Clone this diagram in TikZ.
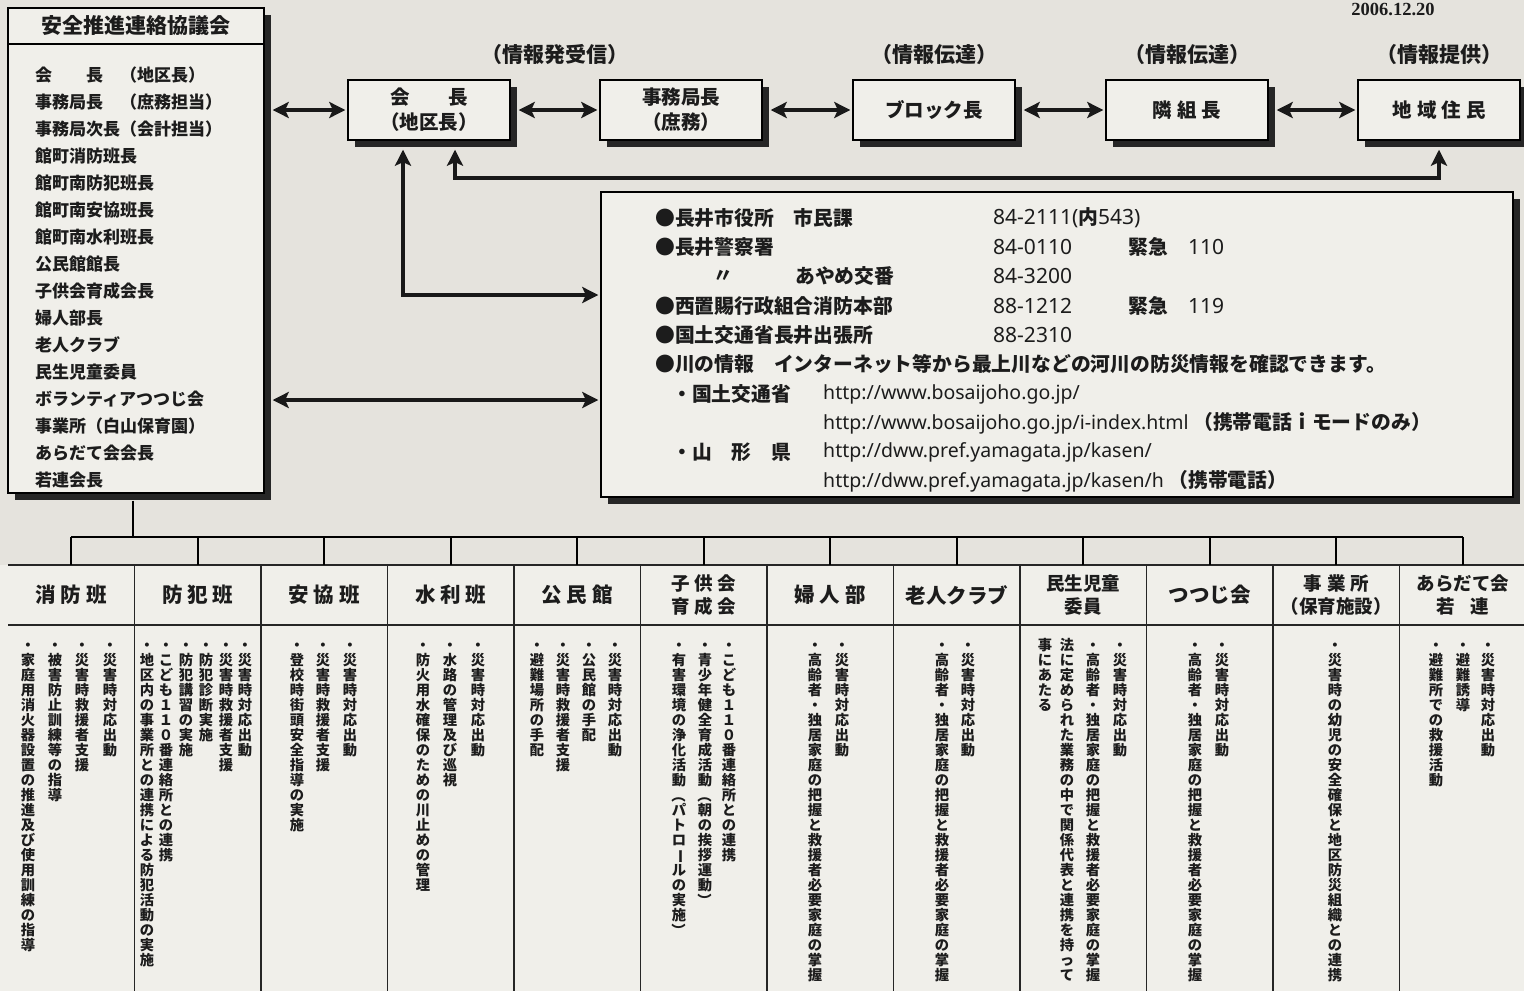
\documentclass[tikz,border=0pt]{standalone}
\usepackage{fontspec}
\usepackage{graphicx}
\setmainfont{Noto Sans CJK JP}
\newfontfamily\latf{Noto Sans}
\newfontfamily\datf{Liberation Serif}
\usetikzlibrary{arrows.meta,shadows}
\definecolor{paper}{RGB}{229,227,221}
\definecolor{boxfill}{RGB}{240,239,234}
\definecolor{ink}{RGB}{28,28,28}
\newcommand\vch[1]{\vbox to 15pt{\vss\hbox to 15pt{\hss\vrule height 11.5pt depth 2pt width 0pt\relax #1\hss}\vss}}
\ExplSyntaxOn
\NewDocumentCommand\vcol{m}{\vbox{\offinterlineskip \tl_map_function:nN {#1} \vch}}
\ExplSyntaxOff
\newcommand\vrt[1]{\rotatebox[origin=c]{-90}{#1}}
\newcommand\ls{\hspace{5pt}}
\newcommand\la[1]{{\latf\fontsize{21}{24}\selectfont #1}}
\newcommand\lu[1]{{\latf\fontsize{19.5}{24}\selectfont #1}}
\tikzset{
  box/.style={draw=black, line width=1.4pt, fill=boxfill,
    drop shadow={shadow xshift=7pt, shadow yshift=-7pt, fill=black!85, opacity=1}},
  tb/.style={box, minimum width=162pt, minimum height=60pt, align=center, inner sep=0pt,
    font=\fontsize{19.5}{25}\selectfont\bfseries, text=ink},
  lab/.style={font=\fontsize{21}{21}\selectfont\bfseries, text=ink},
  li/.style={anchor=west, inner sep=0pt, font=\fontsize{17}{17}\selectfont\bfseries, text=ink},
  it/.style={anchor=west, inner sep=0pt, font=\fontsize{19.8}{24}\selectfont\bfseries, text=ink},
  dbl/.style={line width=4pt, draw=black!90, {Stealth[length=16pt,width=16pt,inset=3.5pt]}-{Stealth[length=16pt,width=16pt,inset=3.5pt]}},
  hd/.style={minimum width=126.5pt, minimum height=60pt, inner sep=0pt, align=center,
    font=\fontsize{20.5}{24}\selectfont\bfseries, text=ink},
  hd2/.style={hd, font=\fontsize{18.5}{23}\selectfont\bfseries},
  vt/.style={anchor=north, inner sep=0pt, font=\fontsize{14.3}{15}\selectfont\bfseries, text=ink},
  grid/.style={draw=black!85, line width=1.5pt},
}
\begin{document}
\begin{tikzpicture}[x=1pt,y=-1pt]
\useasboundingbox (0,0) rectangle (1524,991);
\fill[paper] (0,0) rectangle (1524,991);
\fill[boxfill] (0,565) rectangle (1524,991);

% date
\node[font=\datf\bfseries\fontsize{18.5}{18}\selectfont, text=ink] (date) at (1393,9) {2006.12.20};

% left council box
\node[box, minimum width=256pt, minimum height=485pt, inner sep=0pt] (council) at (136,250.5) {};
\node[font=\fontsize{21}{21}\selectfont\bfseries, text=ink] (ctitle) at (136,26) {安全推進連絡協議会};
\draw[line width=1.4pt] (council.west |- 0,44) -- (council.east |- 0,44);
\foreach \t [count=\i from 0] in {会　　長　（地区長）,事務局長　（庶務担当）,事務局次長（会計担当）,館町消防班長,館町南防犯班長,館町南安協班長,館町南水利班長,公民館館長,子供会育成会長,婦人部長,老人クラブ,民生児童委員,ボランティアつつじ会,事業所（白山保育園）,あらだて会会長,若連会長}
  \node[li] (li\i) at (35,75+27*\i) {\t};

% top row
\node[tb] (kaicho) at (429,110) {会　　長\\（地区長）};
\node[tb] (jimu) at (681,110) {事務局長\\（庶務）};
\node[tb] (block) at (934,110) {ブロック長};
\node[tb] (tonari) at (1187,110) {隣\ls 組\ls 長};
\node[tb] (jumin) at (1439,110) {地\ls 域\ls 住\ls 民};

\node[lab] (lab1) at (555,55) {（情報発受信）};
\node[lab] (lab2) at (934,55) {（情報伝達）};
\node[lab] (lab3) at (1187,55) {（情報伝達）};
\node[lab] (lab4) at (1439,55) {（情報提供）};

\draw[dbl, shorten <=8pt, shorten >=2pt] (council.east |- kaicho.west) -- (kaicho.west);
\draw[dbl, shorten <=8pt, shorten >=2pt] (kaicho.east) -- (jimu.west);
\draw[dbl, shorten <=8pt, shorten >=2pt] (jimu.east) -- (block.west);
\draw[dbl, shorten <=8pt, shorten >=2pt] (block.east) -- (tonari.west);
\draw[dbl, shorten <=8pt, shorten >=2pt] (tonari.east) -- (jumin.west);

% info box
\node[box, minimum width=912pt, minimum height=305pt, inner sep=0pt] (info) at (1057,344.5) {};

\coordinate (fb) at (455,178);
\draw[dbl] ([xshift=26pt,yshift=-9pt]kaicho.south) -- (fb) -| ([yshift=-9pt]jumin.south);
\coordinate (il) at (info.west |- 0,295);
\draw[dbl, shorten >=2pt] ([xshift=-26pt,yshift=-9pt]kaicho.south) |- (il);
\draw[dbl, shorten <=8pt, shorten >=2pt] (council.east |- 0,400) -- (info.west |- 0,400);

\node[it] (r1a) at (655,218) {●長井市役所　市民課};
\node[it] (r1b) at (993,218) {\la{84-2111(}内\la{543)}};
\node[it] (r2a) at (655,247) {●長井警察署};
\node[it] (r2b) at (993,247) {\la{84-0110}};
\node[it] (r2c) at (1128,247) {緊急};
\node[it] (r2d) at (1188,247) {\la{110}};
\node[it] (r3a) at (713,276) {〃};
\node[it] (r3b) at (795,276) {あやめ交番};
\node[it] (r3c) at (993,276) {\la{84-3200}};
\node[it] (r4a) at (655,306) {●西置賜行政組合消防本部};
\node[it] (r4b) at (993,306) {\la{88-1212}};
\node[it] (r4c) at (1128,306) {緊急};
\node[it] (r4d) at (1188,306) {\la{119}};
\node[it] (r5a) at (655,335) {●国土交通省長井出張所};
\node[it] (r5b) at (993,335) {\la{88-2310}};
\node[it] (r6a) at (655,364) {●川の情報　インターネット等から最上川などの河川の防災情報を確認できます。};
\node[it] (r7a) at (672,394) {・国土交通省};
\node[it] (r7b) at (823,394) {\lu{http://www.bosaijoho.go.jp/}};
\node[it] (r8b) at (823,423) {\lu{http://www.bosaijoho.go.jp/i-index.html} （携帯電話ｉモードのみ）};
\node[it] (r9a) at (672,452) {・山　形　県};
\node[it] (r9b) at (823,452) {\lu{http://dww.pref.yamagata.jp/kasen/}};
\node[it] (r10b) at (823,481) {\lu{http://dww.pref.yamagata.jp/kasen/h} （携帯電話）};

% table grid
\draw[grid] (8,565) -- (1524,565);
\draw[grid] (8,625) -- (1524,625);
\foreach \k in {1,...,11} \draw[grid] (8+126.5*\k,565) -- (8+126.5*\k,991);

% headers
\node[hd] (h1) at (71.25,595) {消\ls 防\ls 班};
\node[hd] (h2) at (197.75,595) {防\ls 犯\ls 班};
\node[hd] (h3) at (324.25,595) {安\ls 協\ls 班};
\node[hd] (h4) at (450.75,595) {水\ls 利\ls 班};
\node[hd] (h5) at (577.25,595) {公\ls 民\ls 館};
\node[hd2] (h6) at (703.75,595) {子\ls 供\ls 会\\育\ls 成\ls 会};
\node[hd] (h7) at (830.25,595) {婦\ls 人\ls 部};
\node[hd] (h8) at (956.75,595) {老人クラブ};
\node[hd2] (h9) at (1083.25,595) {民生児童\\委員};
\node[hd] (h10) at (1209.75,595) {つつじ会};
\node[hd2] (h11) at (1336.25,595) {事\ls 業\ls 所\\（保育施設）};
\node[hd2] (h12) at (1462.75,595) {あらだて会\\若\hspace{16pt}連};

% tree
\coordinate (trunk) at (133,537);
\draw[line width=2pt] ([xshift=-3pt,yshift=-7pt]council.south) -- (trunk);
\draw[line width=2pt] (h1.north |- trunk) -- (h12.north |- trunk);
\foreach \k in {1,...,12} \draw[line width=2pt] (h\k.north |- trunk) -- (h\k.north);

% column texts
\node[vt] (c1a) at (110,638) {\vcol{・災害時対応出動}};
\node[vt] (c1b) at (82,638) {\vcol{・災害時救援者支援}};
\node[vt] (c1c) at (55,638) {\vcol{・被害防止訓練等の指導}};
\node[vt] (c1d) at (28,638) {\vcol{・家庭用消火器設置の推進及び使用訓練の指導}};

\node[vt] (c2a) at (245,638) {\vcol{・災害時対応出動}};
\node[vt] (c2b) at (226,638) {\vcol{・災害時救援者支援}};
\node[vt] (c2c) at (206,638) {\vcol{・防犯診断実施}};
\node[vt] (c2d) at (186,638) {\vcol{・防犯講習の実施}};
\node[vt] (c2e) at (166,638) {\vcol{・こども１１０番連絡所との連携}};
\node[vt] (c2f) at (147,638) {\vcol{・地区内の事業所との連携による防犯活動の実施}};

\node[vt] (c3a) at (350,638) {\vcol{・災害時対応出動}};
\node[vt] (c3b) at (323,638) {\vcol{・災害時救援者支援}};
\node[vt] (c3c) at (297,638) {\vcol{・登校時街頭安全指導の実施}};

\node[vt] (c4a) at (478,638) {\vcol{・災害時対応出動}};
\node[vt] (c4b) at (450,638) {\vcol{・水路の管理及び巡視}};
\node[vt] (c4c) at (423,638) {\vcol{・防火用水確保のための川止めの管理}};

\node[vt] (c5a) at (615,638) {\vcol{・災害時対応出動}};
\node[vt] (c5b) at (589,638) {\vcol{・公民館の手配}};
\node[vt] (c5c) at (563,638) {\vcol{・災害時救援者支援}};
\node[vt] (c5d) at (537,638) {\vcol{・避難場所の手配}};

\node[vt] (c6a) at (729,638) {\vcol{・こども１１０番連絡所との連携}};
\node[vt] (c6b) at (705,638) {\vcol{・青少年健全育成活動{\vrt{（}}朝の挨拶運動{\vrt{）}}}};
\node[vt] (c6c) at (679,638) {\vcol{・有害環境の浄化活動{\vrt{（}}パトロ{\vrt{ー}}ルの実施{\vrt{）}}}};

\node[vt] (c7a) at (842,638) {\vcol{・災害時対応出動}};
\node[vt] (c7b) at (815,638) {\vcol{・高齢者・独居家庭の把握と救援者必要家庭の掌握}};

\node[vt] (c8a) at (968,638) {\vcol{・災害時対応出動}};
\node[vt] (c8b) at (942,638) {\vcol{・高齢者・独居家庭の把握と救援者必要家庭の掌握}};

\node[vt] (c9a) at (1120,638) {\vcol{・災害時対応出動}};
\node[vt] (c9b) at (1093,638) {\vcol{・高齢者・独居家庭の把握と救援者必要家庭の掌握}};
\node[vt] (c9c) at (1067,638) {\vcol{法に定められた業務の中で関係代表と連携を持って}};
\node[vt] (c9d) at (1045,638) {\vcol{事にあたる}};

\node[vt] (c10a) at (1222,638) {\vcol{・災害時対応出動}};
\node[vt] (c10b) at (1195,638) {\vcol{・高齢者・独居家庭の把握と救援者必要家庭の掌握}};

\node[vt] (c11a) at (1335,638) {\vcol{・災害時の幼児の安全確保と地区防災組織との連携}};

\node[vt] (c12a) at (1488,638) {\vcol{・災害時対応出動}};
\node[vt] (c12b) at (1463,638) {\vcol{・避難誘導}};
\node[vt] (c12c) at (1436,638) {\vcol{・避難所での救援活動}};
\end{tikzpicture}
\end{document}
